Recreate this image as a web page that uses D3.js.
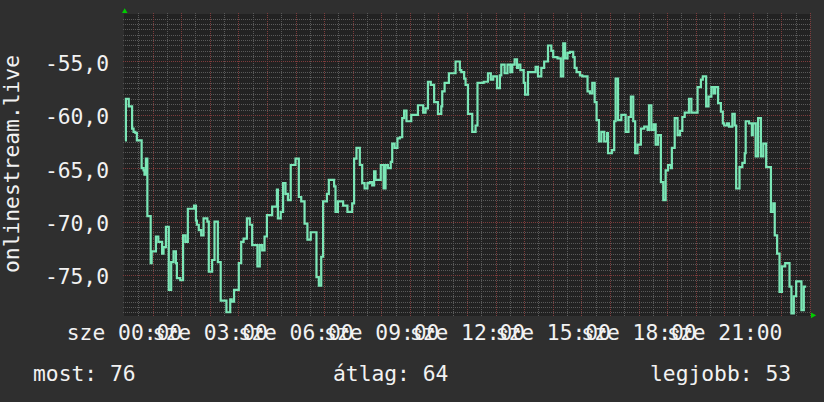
<!DOCTYPE html>
<html>
<head>
<meta charset="utf-8">
<script src="https://cdn.jsdelivr.net/npm/d3@7"></script>
<style>
html,body{margin:0;padding:0;background:#2f2f2f;}
svg{display:block;}
text{font-family:"DejaVu Sans Mono",monospace;}
</style>
</head>
<body>
<svg id="chart" width="824" height="402"></svg>
<script>
// ---- data (minutes since 00:00, value) ----
const times = [2,4,10,17,20,24,27,37,41,43,46,49,56,58,67,72,80,83,88,94,99,104,109,111,118,124,129,134,147,151,153,157,162,167,175,178,185,190,197,203,215,223,226,231,241,246,251,258,264,269,280,285,290,295,300,
311,321,323,329,334,339,344,350,360,367,372,379,385,392,404,409,414,418,426,430,441,444,449,460,469,479,483,488,495,500,505,511,516,521,525,528,539,545,549,554,560,563,568,574,579,584,588,593,603,
617,628,633,638,644,651,659,666,668,673,682,696,705,708,714,717,722,731,738,742,755,764,770,775,783,789,792,799,805,811,815,820,825,827,832,839,842,848,864,869,876,882,890,897,901,
910,917,922,926,931,936,943,946,950,957,962,973,978,983,988,992,997,1002,1008,1014,1016,1024,1029,1032,1037,1044,1053,1059,1064,1069,1073,1078,1085,1092,1099,1102,1107,1112,1116,1121,1127,1132,1137,1142,1148,1150,1156,1162,1167,1172,1177,1186,1191,1204,
1211,1215,1222,1227,1233,1238,1241,1247,1253,1257,1260,1266,1270,1277,1282,1285,1292,1298,1303,1305,1312,1318,1320,1326,1331,1337,1342,1348,1358,1363,1366,1371,1376,1381,1388,1397,1401,1406,1411,1422,1427,1432];
const values = [-62.4,-58.5,-59.2,-61.3,-61.6,-61.7,-62.4,-65.0,-65.2,-65.6,-64.1,-69.5,-73.9,-72.8,-71.4,-71.9,-73.0,-72.4,-70.5,-76.4,-73.8,-72.8,-73.9,-75.3,-75.5,-71.3,-71.9,-68.8,-68.5,-69.9,-70.3,-70.8,-71.3,-69.7,-70.0,-74.7,-73.6,-70.0,-73.8,-77.4,-78.5,-77.3,-77.5,-76.4,-73.9,-71.9,-71.6,-69.7,-70.3,-72.2,-74.2,-72.2,-72.7,-71.4,-69.4,
-68.6,-67.0,-69.7,-69.1,-66.4,-67.4,-68.0,-64.7,-64.1,-67.7,-68.1,-70.2,-71.7,-71.0,-75.2,-76.0,-73.3,-68.1,-67.4,-66.1,-66.7,-69.1,-68.1,-68.5,-69.1,-68.3,-64.1,-63.1,-64.7,-66.4,-66.9,-66.4,-66.3,-66.6,-65.3,-66.1,-64.7,-66.9,-64.7,-65.0,-64.4,-62.7,-63.1,-62.2,-62.1,-60.3,-59.6,-60.6,-60.0,
-59.1,-59.8,-59.4,-56.9,-57.2,-58.8,-59.9,-59.2,-57.8,-57.0,-56.1,-55.0,-55.8,-56.0,-56.6,-57.2,-59.9,-61.6,-61.0,-57.0,-56.9,-56.1,-56.7,-56.4,-57.5,-56.3,-55.3,-56.1,-55.3,-56.0,-55.3,-54.8,-55.6,-55.3,-55.8,-57.0,-58.1,-56.0,-55.5,-56.4,-55.6,-55.0,-53.5,-54.0,-54.6,
-54.7,-56.4,-53.3,-54.7,-54.2,-54.1,-54.6,-55.6,-56.0,-56.3,-56.4,-57.8,-58.0,-57.0,-58.8,-60.5,-62.5,-61.6,-62.5,-61.7,-63.6,-63.3,-60.6,-56.6,-60.5,-60.0,-61.6,-60.2,-58.3,-60.6,-63.6,-62.8,-61.3,-61.1,-61.4,-59.1,-61.4,-60.9,-62.8,-61.9,-66.3,-68.0,-65.2,-64.7,-65.0,-63.1,-60.3,-61.9,-61.5,-60.2,-59.8,-58.5,-59.8,-57.4,
-56.7,-56.4,-59.2,-58.3,-57.4,-58.0,-57.4,-58.9,-59.7,-60.8,-61.0,-60.8,-61.1,-59.9,-61.0,-66.9,-64.9,-64.5,-63.6,-60.6,-60.8,-61.9,-60.8,-63.9,-60.3,-63.9,-62.7,-64.9,-69.1,-68.3,-71.3,-73.0,-76.6,-74.2,-73.9,-76.1,-78.6,-77.0,-75.6,-78.3,-76.1,-76.1];

const yTickValues = [-75, -70, -65, -60, -55];
const xTickMinutes = [0, 180, 360, 540, 720, 900, 1080, 1260];
const xTickLabels = ["sze 00:00","sze 03:00","sze 06:00","sze 09:00","sze 12:00","sze 15:00","sze 18:00","sze 21:00"];
const titleText = "onlinestream.live";
const legendLabels = ["most", "átlag", "legjobb"];
const legendValues = [76, 64, 53];

// ---- layout ----
const W = 824, H = 402;
const FS = "21.3px";
const plot = {left: 124, right: 810, top: 14, bottom: 316};
const x = d3.scaleLinear().domain([0, 1440]).range([plot.left, plot.right]);
const y = d3.scaleLinear().domain([-78.85, -50.55]).range([plot.bottom, plot.top]);

const svg = d3.select("#chart");
svg.append("rect").attr("width", W).attr("height", H).attr("fill", "#2f2f2f");
svg.append("rect").attr("x", plot.left).attr("y", plot.top)
  .attr("width", plot.right - plot.left).attr("height", plot.bottom - plot.top)
  .attr("fill", "#222222");

const grid = svg.append("g").attr("shape-rendering", "crispEdges");
// horizontal minor
const hMinor = d3.range(-78.5, -50.9, 0.5).filter(v => Math.abs(v % 5) > 1e-6);
grid.selectAll("line.hm").data(hMinor).join("line")
  .attr("x1", plot.left - 1).attr("x2", plot.right)
  .attr("y1", d => Math.round(y(d)) + 0.5).attr("y2", d => Math.round(y(d)) + 0.5)
  .attr("stroke", "#595959").attr("stroke-dasharray", "1,1");
// vertical minor (half hours)
const vMinor = d3.range(30, 1441, 60);
grid.selectAll("line.vm").data(vMinor).join("line")
  .attr("x1", d => Math.round(x(d)) + 0.5).attr("x2", d => Math.round(x(d)) + 0.5)
  .attr("y1", plot.top - 1).attr("y2", plot.bottom)
  .attr("stroke", "#595959").attr("stroke-dasharray", "1,1");
// vertical major (hours)
const vMajor = d3.range(60, 1441, 60);
grid.selectAll("line.vM").data(vMajor).join("line")
  .attr("x1", d => Math.round(x(d)) + 0.5).attr("x2", d => Math.round(x(d)) + 0.5)
  .attr("y1", plot.top - 1).attr("y2", plot.bottom)
  .attr("stroke", "#7e3c3c").attr("stroke-dasharray", "1,1");
// horizontal major
grid.selectAll("line.hM").data(yTickValues).join("line")
  .attr("x1", plot.left - 1).attr("x2", plot.right)
  .attr("y1", d => Math.round(y(d)) + 0.5).attr("y2", d => Math.round(y(d)) + 0.5)
  .attr("stroke", "#7e3c3c").attr("stroke-dasharray", "1,1");

// ---- line ----
const data = times.map((t, i) => ({t, v: values[i]}));
const line = d3.line().x(d => x(d.t)).y(d => y(d.v)).curve(d3.curveStepAfter);
svg.append("path").datum(data)
  .attr("d", line)
  .attr("fill", "none")
  .attr("stroke", "#7be6b6")
  .attr("stroke-width", 2.2)
  .attr("stroke-linejoin", "miter");

// ---- axes ----
const loc = d3.formatLocale({decimal: ",", thousands: ".", grouping: [3], currency: ["", ""], minus: "-"});
const fmt = loc.format(".1f");

const yAxis = d3.axisLeft(y).tickValues(yTickValues).tickFormat(fmt).tickSize(0).tickPadding(0);
const gy = svg.append("g").attr("transform", "translate(109,0)").call(yAxis);
gy.select(".domain").remove();
gy.selectAll("text").attr("dy", null).attr("y", 9)
  .attr("fill", "#f2f2f2").attr("font-size", FS).attr("font-family", "DejaVu Sans Mono");

const xAxis = d3.axisBottom(x).tickValues(xTickMinutes)
  .tickFormat((d, i) => xTickLabels[i]).tickSize(0).tickPadding(0);
const gx = svg.append("g").call(xAxis);
gx.select(".domain").remove();
gx.selectAll("text").attr("dy", null).attr("y", 339.5)
  .attr("fill", "#f2f2f2").attr("font-size", FS).attr("font-family", "DejaVu Sans Mono")
  .attr("text-anchor", "middle");

// ---- arrows ----
svg.append("path").attr("d", d3.line()([[122, 13], [127.5, 13], [124.7, 8.3]]) + "Z").attr("fill", "#00cc00");
svg.append("path").attr("d", d3.line()([[811, 312.4], [811, 318.2], [816.2, 315.3]]) + "Z").attr("fill", "#00cc00");

// ---- title ----
svg.append("text").attr("transform", "translate(19,164) rotate(-90)")
  .attr("text-anchor", "middle").attr("fill", "#f2f2f2").attr("font-size", FS)
  .text(titleText);

// ---- legend ----
const legendX = [33, 333, 650];
svg.selectAll("text.leg").data(legendLabels).join("text")
  .attr("class", "leg")
  .attr("x", (d, i) => legendX[i]).attr("y", 381)
  .attr("fill", "#f2f2f2").attr("font-size", FS)
  .text((d, i) => d + ": " + legendValues[i]);
</script>
</body>
</html>
